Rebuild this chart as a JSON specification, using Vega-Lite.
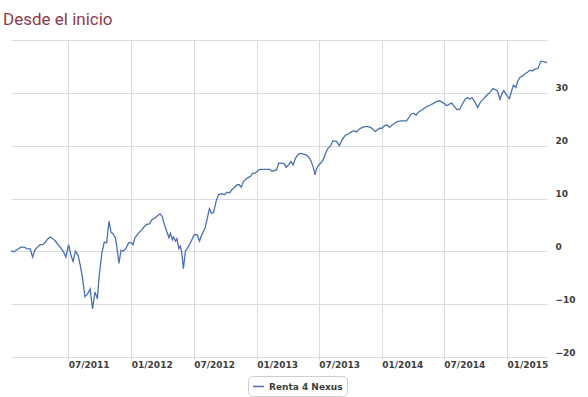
{
  "$schema": "https://vega.github.io/schema/vega-lite/v6.json",
  "width": 536,
  "height": 317,
  "autosize": {"type": "none"},
  "padding": {"left": 11, "top": 40, "right": 41, "bottom": 40},
  "background": "white",
  "title": {
    "text": "Desde el inicio",
    "anchor": "start",
    "frame": "group",
    "font": "Roboto",
    "fontSize": 17,
    "fontWeight": "normal",
    "color": "#8e3a4b",
    "baseline": "alphabetic",
    "offset": 19,
    "dx": -8,
    "dy": 21
  },
  "config": {
    "view": {"stroke": null},
    "axis": {
      "labelFont": "DejaVu Sans",
      "labelFontSize": 9,
      "labelFontWeight": "bold",
      "labelColor": "#3d3d3d",
      "gridColor": "#d9dde2",
      "gridWidth": 1,
      "domain": false,
      "title": null
    }
  },
  "data": {
    "values": [
      {"date": "2011-01-15", "value": 0.1},
      {"date": "2011-01-24", "value": -0.1},
      {"date": "2011-02-01", "value": 0.3},
      {"date": "2011-02-13", "value": 0.8},
      {"date": "2011-02-22", "value": 0.8},
      {"date": "2011-03-04", "value": 0.45},
      {"date": "2011-03-12", "value": 0.45},
      {"date": "2011-03-19", "value": -1.1},
      {"date": "2011-03-26", "value": 0.3},
      {"date": "2011-04-02", "value": 0.8},
      {"date": "2011-04-10", "value": 1.25},
      {"date": "2011-04-18", "value": 1.3},
      {"date": "2011-04-26", "value": 1.75},
      {"date": "2011-05-01", "value": 2.25},
      {"date": "2011-05-09", "value": 2.7},
      {"date": "2011-05-17", "value": 2.4},
      {"date": "2011-05-25", "value": 1.9},
      {"date": "2011-06-03", "value": 1.1},
      {"date": "2011-06-11", "value": 0.5},
      {"date": "2011-06-17", "value": -0.06},
      {"date": "2011-06-24", "value": -1.1},
      {"date": "2011-07-02", "value": 1.25},
      {"date": "2011-07-09", "value": -0.75},
      {"date": "2011-07-15", "value": -1.9},
      {"date": "2011-07-22", "value": 0},
      {"date": "2011-07-30", "value": -0.75},
      {"date": "2011-08-05", "value": -2.6},
      {"date": "2011-08-11", "value": -4.8},
      {"date": "2011-08-19", "value": -8.6},
      {"date": "2011-08-26", "value": -8.1},
      {"date": "2011-09-03", "value": -7.1},
      {"date": "2011-09-10", "value": -10.9},
      {"date": "2011-09-17", "value": -7.7},
      {"date": "2011-09-24", "value": -9.0},
      {"date": "2011-09-29", "value": -4.8},
      {"date": "2011-10-07", "value": -0.4},
      {"date": "2011-10-14", "value": 1.75},
      {"date": "2011-10-21", "value": 1.6},
      {"date": "2011-10-28", "value": 5.7},
      {"date": "2011-11-03", "value": 3.6},
      {"date": "2011-11-08", "value": 3.4},
      {"date": "2011-11-16", "value": 2.5},
      {"date": "2011-11-20", "value": 0.8},
      {"date": "2011-11-26", "value": -2.3},
      {"date": "2011-12-02", "value": 0.2},
      {"date": "2011-12-09", "value": 0.06},
      {"date": "2011-12-16", "value": 0.5},
      {"date": "2011-12-24", "value": 1.6},
      {"date": "2011-12-31", "value": 1.7},
      {"date": "2012-01-06", "value": 1.25},
      {"date": "2012-01-12", "value": 2.6},
      {"date": "2012-01-22", "value": 3.45},
      {"date": "2012-02-01", "value": 4.1},
      {"date": "2012-02-08", "value": 4.7},
      {"date": "2012-02-15", "value": 5.1},
      {"date": "2012-02-23", "value": 5.2},
      {"date": "2012-03-01", "value": 6.0},
      {"date": "2012-03-11", "value": 6.35},
      {"date": "2012-03-17", "value": 6.7},
      {"date": "2012-03-25", "value": 7.1},
      {"date": "2012-03-31", "value": 6.6},
      {"date": "2012-04-06", "value": 5.2},
      {"date": "2012-04-14", "value": 3.65},
      {"date": "2012-04-20", "value": 2.6},
      {"date": "2012-04-24", "value": 3.45},
      {"date": "2012-04-30", "value": 2.2},
      {"date": "2012-05-03", "value": 2.7},
      {"date": "2012-05-09", "value": 1.95},
      {"date": "2012-05-13", "value": 2.4},
      {"date": "2012-05-19", "value": 0.5},
      {"date": "2012-05-23", "value": 0.95},
      {"date": "2012-05-27", "value": -0.1},
      {"date": "2012-06-01", "value": -3.3},
      {"date": "2012-06-07", "value": 0.06},
      {"date": "2012-06-16", "value": 0.95},
      {"date": "2012-06-24", "value": 1.95},
      {"date": "2012-07-03", "value": 3.2},
      {"date": "2012-07-11", "value": 3.15},
      {"date": "2012-07-18", "value": 1.95},
      {"date": "2012-07-26", "value": 3.35},
      {"date": "2012-08-03", "value": 4.3},
      {"date": "2012-08-10", "value": 6.35},
      {"date": "2012-08-16", "value": 8.05},
      {"date": "2012-08-22", "value": 7.2},
      {"date": "2012-08-28", "value": 7.35},
      {"date": "2012-09-05", "value": 9.6},
      {"date": "2012-09-12", "value": 10.75},
      {"date": "2012-09-22", "value": 10.9},
      {"date": "2012-09-29", "value": 10.7},
      {"date": "2012-10-06", "value": 11.2},
      {"date": "2012-10-13", "value": 11.05},
      {"date": "2012-10-21", "value": 11.7},
      {"date": "2012-10-28", "value": 12.1},
      {"date": "2012-11-05", "value": 12.6},
      {"date": "2012-11-11", "value": 12.6},
      {"date": "2012-11-17", "value": 12.15},
      {"date": "2012-11-23", "value": 13.2},
      {"date": "2012-12-01", "value": 13.7},
      {"date": "2012-12-08", "value": 14.0},
      {"date": "2012-12-14", "value": 14.2},
      {"date": "2012-12-20", "value": 14.8},
      {"date": "2012-12-28", "value": 14.8},
      {"date": "2013-01-05", "value": 15.3},
      {"date": "2013-01-12", "value": 15.5},
      {"date": "2013-01-21", "value": 15.5},
      {"date": "2013-01-31", "value": 15.5},
      {"date": "2013-02-08", "value": 15.5},
      {"date": "2013-02-15", "value": 15.15},
      {"date": "2013-02-22", "value": 15.3},
      {"date": "2013-02-28", "value": 15.4},
      {"date": "2013-03-06", "value": 16.7},
      {"date": "2013-03-14", "value": 16.7},
      {"date": "2013-03-22", "value": 16.6},
      {"date": "2013-03-28", "value": 15.9},
      {"date": "2013-04-04", "value": 16.35},
      {"date": "2013-04-11", "value": 17.0},
      {"date": "2013-04-17", "value": 16.35},
      {"date": "2013-04-24", "value": 17.6},
      {"date": "2013-05-02", "value": 18.35},
      {"date": "2013-05-09", "value": 18.55},
      {"date": "2013-05-17", "value": 18.4},
      {"date": "2013-05-25", "value": 18.25},
      {"date": "2013-06-02", "value": 17.8},
      {"date": "2013-06-09", "value": 17.0},
      {"date": "2013-06-15", "value": 15.9},
      {"date": "2013-06-20", "value": 14.5},
      {"date": "2013-06-25", "value": 15.7},
      {"date": "2013-07-01", "value": 16.35},
      {"date": "2013-07-09", "value": 16.85},
      {"date": "2013-07-15", "value": 17.5},
      {"date": "2013-07-22", "value": 18.7},
      {"date": "2013-07-28", "value": 19.5},
      {"date": "2013-08-04", "value": 19.9},
      {"date": "2013-08-11", "value": 20.9},
      {"date": "2013-08-22", "value": 20.8},
      {"date": "2013-08-30", "value": 20.0},
      {"date": "2013-09-07", "value": 21.1},
      {"date": "2013-09-17", "value": 22.0},
      {"date": "2013-09-26", "value": 22.2},
      {"date": "2013-10-06", "value": 22.7},
      {"date": "2013-10-13", "value": 22.8},
      {"date": "2013-10-19", "value": 22.6},
      {"date": "2013-10-27", "value": 23.1},
      {"date": "2013-11-05", "value": 23.45},
      {"date": "2013-11-12", "value": 23.6},
      {"date": "2013-11-21", "value": 23.6},
      {"date": "2013-11-29", "value": 23.45},
      {"date": "2013-12-06", "value": 23.1},
      {"date": "2013-12-13", "value": 22.7},
      {"date": "2013-12-19", "value": 23.0},
      {"date": "2013-12-26", "value": 23.3},
      {"date": "2014-01-02", "value": 23.3},
      {"date": "2014-01-09", "value": 23.8},
      {"date": "2014-01-17", "value": 23.9},
      {"date": "2014-01-23", "value": 23.45},
      {"date": "2014-01-31", "value": 23.9},
      {"date": "2014-02-08", "value": 24.3},
      {"date": "2014-02-17", "value": 24.6},
      {"date": "2014-02-27", "value": 24.7},
      {"date": "2014-03-06", "value": 24.7},
      {"date": "2014-03-14", "value": 24.7},
      {"date": "2014-03-21", "value": 25.3},
      {"date": "2014-03-28", "value": 26.0},
      {"date": "2014-04-04", "value": 26.1},
      {"date": "2014-04-11", "value": 25.8},
      {"date": "2014-04-17", "value": 26.3},
      {"date": "2014-04-26", "value": 26.7},
      {"date": "2014-05-04", "value": 27.0},
      {"date": "2014-05-12", "value": 27.4},
      {"date": "2014-05-20", "value": 27.6},
      {"date": "2014-05-29", "value": 27.9},
      {"date": "2014-06-05", "value": 28.2},
      {"date": "2014-06-12", "value": 28.4},
      {"date": "2014-06-19", "value": 28.5},
      {"date": "2014-06-24", "value": 28.3},
      {"date": "2014-07-01", "value": 28.05},
      {"date": "2014-07-09", "value": 27.55},
      {"date": "2014-07-17", "value": 27.85},
      {"date": "2014-07-24", "value": 28.05},
      {"date": "2014-08-01", "value": 27.4},
      {"date": "2014-08-09", "value": 26.8},
      {"date": "2014-08-16", "value": 26.9},
      {"date": "2014-08-24", "value": 27.85},
      {"date": "2014-09-02", "value": 28.9},
      {"date": "2014-09-09", "value": 29.1},
      {"date": "2014-09-15", "value": 28.8},
      {"date": "2014-09-21", "value": 29.1},
      {"date": "2014-09-29", "value": 28.3},
      {"date": "2014-10-08", "value": 27.2},
      {"date": "2014-10-16", "value": 28.3},
      {"date": "2014-10-24", "value": 28.8},
      {"date": "2014-11-01", "value": 29.4},
      {"date": "2014-11-10", "value": 29.9},
      {"date": "2014-11-17", "value": 30.4},
      {"date": "2014-11-21", "value": 30.8},
      {"date": "2014-11-28", "value": 30.6},
      {"date": "2014-12-04", "value": 30.4},
      {"date": "2014-12-12", "value": 28.8},
      {"date": "2014-12-19", "value": 30.1},
      {"date": "2014-12-23", "value": 30.4},
      {"date": "2014-12-29", "value": 29.75},
      {"date": "2015-01-08", "value": 28.9},
      {"date": "2015-01-14", "value": 30.2},
      {"date": "2015-01-20", "value": 31.45},
      {"date": "2015-01-27", "value": 31.0},
      {"date": "2015-02-01", "value": 32.1},
      {"date": "2015-02-08", "value": 32.9},
      {"date": "2015-02-16", "value": 33.2},
      {"date": "2015-02-24", "value": 33.65},
      {"date": "2015-03-03", "value": 33.95},
      {"date": "2015-03-09", "value": 34.3},
      {"date": "2015-03-16", "value": 34.15},
      {"date": "2015-03-24", "value": 34.5},
      {"date": "2015-04-02", "value": 34.65},
      {"date": "2015-04-10", "value": 36.0},
      {"date": "2015-04-18", "value": 35.9},
      {"date": "2015-04-28", "value": 35.7}
    ]
  },
  "mark": {"type": "line", "strokeWidth": 1.3, "interpolate": "linear"},
  "encoding": {
    "x": {
      "field": "date",
      "type": "temporal",
      "scale": {"type": "utc", "nice": false},
      "axis": {
        "orient": "bottom",
        "format": "%m/%Y",
        "tickCount": {"interval": "month", "step": 6},
        "grid": true,
        "ticks": true,
        "tickSize": 3,
        "tickColor": "#d9dde2",
        "labelAlign": "left",
        "labelBaseline": "middle",
        "labelPadding": 4,
        "labelDx": 2,
        "labelFlush": false,
        "labelOverlap": false
      }
    },
    "y": {
      "field": "value",
      "type": "quantitative",
      "scale": {"domain": [-20, 40], "nice": false, "zero": false},
      "axis": {
        "orient": "right",
        "values": [-20, -10, 0, 10, 20, 30, 40],
        "labelExpr": "datum.value == 40 ? '' : datum.label",
        "grid": true,
        "ticks": false,
        "labelAlign": "left",
        "labelBaseline": "middle",
        "labelPadding": 8,
        "labelOffset": -5
      }
    },
    "color": {
      "datum": "Renta 4 Nexus",
      "type": "nominal",
      "scale": {"range": ["#4a70b2"]},
      "legend": {
        "title": null,
        "orient": "none",
        "legendX": 237,
        "legendY": 336,
        "symbolType": "stroke",
        "symbolSize": 120,
        "symbolStrokeWidth": 1.5,
        "labelFont": "DejaVu Sans",
        "labelFontSize": 9,
        "labelFontWeight": "bold",
        "labelColor": "#3d3d3d",
        "strokeColor": "#cfcfcf",
        "cornerRadius": 4,
        "padding": 4
      }
    }
  }
}
